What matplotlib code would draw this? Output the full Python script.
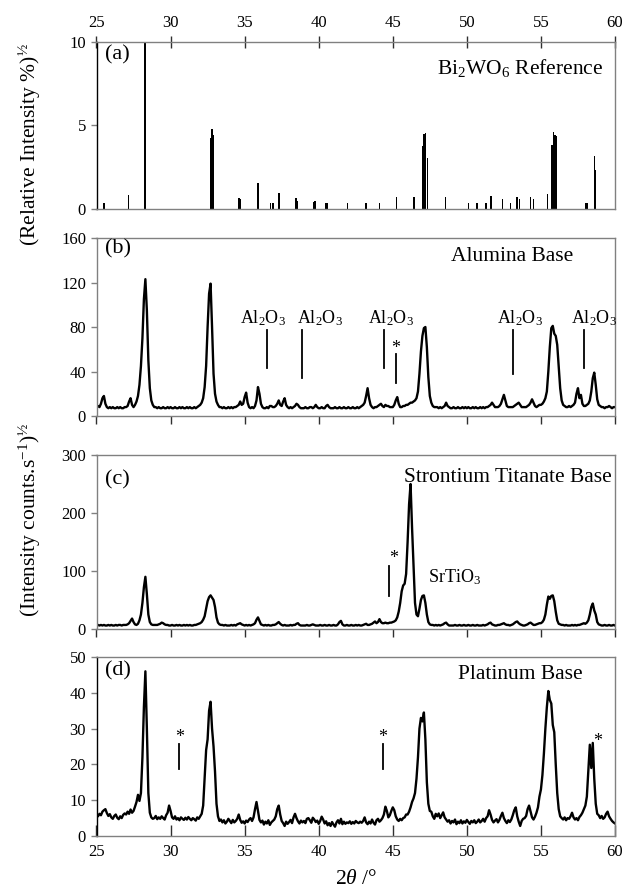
import numpy as np
import matplotlib
matplotlib.use("Agg")
import matplotlib.pyplot as plt

plt.rcParams['font.family'] = ['Liberation Serif', 'DejaVu Serif']
plt.rcParams['mathtext.fontset'] = 'custom'
plt.rcParams['mathtext.rm'] = 'Liberation Serif'
plt.rcParams['mathtext.it'] = 'Liberation Serif:italic'

# ---- (a) Bi2WO6 reference sticks: 2theta, sqrt(relative intensity %)
ref_pos = [25.5, 27.15, 28.28, 32.7, 32.8, 32.9, 34.61, 34.7, 35.9, 36.75, 36.93,
           37.33, 38.46, 38.58, 39.64, 39.76, 40.5, 40.6, 41.95, 43.15, 43.2, 44.1,
           45.25, 46.43, 47.0, 47.1, 47.2, 47.33, 48.56, 50.12, 50.68, 51.3, 51.63,
           52.42, 52.94, 53.4, 53.56, 54.3, 54.5, 55.43, 55.75, 55.85, 55.95, 56.05,
           58.0, 58.1, 58.6, 58.7]
ref_int = [0.38, 0.82, 10.0, 4.24, 4.8, 4.44, 0.68, 0.6, 1.54, 0.38, 0.38,
           0.94, 0.68, 0.5, 0.44, 0.5, 0.38, 0.38, 0.38, 0.38, 0.38, 0.38,
           0.74, 0.74, 3.74, 4.5, 4.54, 3.04, 0.74, 0.38, 0.38, 0.38, 0.8,
           0.6, 0.38, 0.74, 0.6, 0.74, 0.6, 0.88, 3.84, 4.58, 4.4, 4.38,
           0.38, 0.38, 3.14, 2.34]

# ---- measured patterns, 0.1 deg scan step from 25 to 60 (one row per degree)
two_theta = np.round(np.arange(25.0, 60.05, 0.1), 1)

alumina = [
    8, 9, 8, 11, 16, 18, 11, 8, 7, 8,
    7, 8, 7, 7, 8, 7, 8, 7, 7, 8,
    8, 9, 13, 16, 10, 8, 10, 13, 18, 28,
    45, 70, 105, 123, 95, 50, 25, 14, 10, 8,
    8, 7, 8, 7, 7, 8, 7, 7, 8, 7,
    8, 7, 7, 8, 7, 7, 8, 7, 8, 7,
    7, 8, 7, 8, 7, 7, 8, 7, 8, 9,
    10, 12, 16, 26, 45, 80, 110, 119, 80, 38,
    20, 13, 10, 8, 8, 7, 8, 7, 7, 8,
    7, 8, 7, 8, 8, 9, 10, 13, 10, 11,
    17, 21, 12, 8, 7, 8, 7, 9, 14, 26,
    20, 11, 8, 7, 7, 8, 7, 9, 9, 8,
    8, 9, 11, 14, 10, 9, 13, 16, 10, 8,
    7, 8, 7, 8, 9, 11, 10, 8, 7, 7,
    7, 8, 7, 7, 8, 8, 7, 8, 10, 8,
    7, 7, 8, 7, 7, 9, 10, 8, 7, 7,
    7, 8, 7, 7, 8, 7, 7, 8, 7, 7,
    8, 7, 7, 8, 7, 7, 8, 7, 8, 9,
    10, 12, 18, 25, 16, 10, 8, 7, 8, 8,
    9, 10, 11, 9, 8, 10, 9, 9, 8, 8,
    8, 10, 14, 17, 11, 8, 8, 9, 9, 10,
    10, 11, 12, 12, 13, 14, 16, 22, 38, 58,
    72, 79, 80, 62, 35, 18, 12, 9, 8, 8,
    8, 7, 8, 7, 8, 9, 12, 9, 8, 7,
    7, 8, 7, 7, 8, 7, 7, 8, 7, 8,
    7, 8, 7, 7, 8, 7, 8, 7, 7, 8,
    7, 8, 7, 8, 8, 9, 10, 12, 10, 8,
    8, 8, 9, 11, 15, 19, 14, 9, 8, 8,
    8, 8, 9, 10, 11, 12, 10, 8, 8, 8,
    8, 9, 10, 12, 15, 12, 9, 8, 9, 10,
    10, 11, 13, 16, 22, 40, 62, 79, 81, 74,
    72, 64, 45, 25, 14, 10, 9, 8, 8, 9,
    8, 9, 10, 12, 20, 25, 16, 19, 11, 9,
    9, 10, 11, 14, 22, 34, 39, 28, 15, 10,
    9, 8, 8, 7, 8, 8, 9, 8, 7, 8,
    8]

srtio3 = [
    6, 7, 6, 7, 6, 7, 6, 6, 7, 6,
    7, 6, 6, 7, 6, 7, 7, 6, 7, 7,
    7, 8, 10, 14, 18, 12, 8, 7, 9, 15,
    25, 45, 72, 90, 60, 25, 12, 8, 7, 7,
    7, 7, 8, 9, 11, 10, 8, 7, 7, 6,
    6, 7, 6, 6, 7, 6, 7, 6, 6, 7,
    6, 7, 6, 7, 6, 6, 7, 7, 8, 9,
    10, 12, 16, 22, 35, 48, 55, 58, 54, 50,
    38, 20, 11, 8, 7, 7, 6, 7, 6, 6,
    6, 7, 6, 7, 6, 8, 9, 10, 8, 7,
    6, 7, 6, 7, 6, 7, 8, 10, 16, 20,
    14, 8, 7, 6, 7, 6, 7, 6, 6, 7,
    7, 8, 10, 12, 9, 7, 6, 7, 6, 6,
    6, 7, 6, 7, 7, 9, 10, 7, 6, 6,
    6, 6, 7, 6, 6, 7, 8, 7, 6, 6,
    6, 7, 6, 6, 7, 6, 6, 7, 6, 6,
    7, 6, 6, 8, 12, 14, 8, 6, 6, 7,
    6, 6, 7, 6, 6, 7, 6, 7, 6, 6,
    7, 8, 9, 7, 7, 8, 9, 11, 13, 10,
    12, 17, 12, 10, 10, 11, 10, 10, 11, 11,
    12, 13, 15, 20, 30, 45, 65, 75, 78, 95,
    150, 215, 250, 175, 110, 45, 25, 22, 35, 50,
    57, 58, 45, 25, 12, 8, 7, 7, 6, 7,
    6, 7, 6, 7, 8, 10, 11, 8, 6, 6,
    6, 6, 7, 6, 6, 7, 6, 6, 7, 6,
    6, 7, 6, 6, 7, 6, 6, 7, 6, 6,
    6, 7, 6, 7, 8, 10, 11, 8, 7, 6,
    6, 7, 7, 8, 9, 10, 8, 7, 7, 6,
    7, 8, 10, 12, 13, 10, 8, 7, 6, 6,
    7, 8, 10, 11, 9, 7, 7, 8, 9, 10,
    10, 12, 16, 25, 42, 56, 52, 57, 58, 48,
    30, 15, 9, 8, 7, 7, 6, 7, 6, 6,
    6, 7, 6, 7, 6, 7, 7, 8, 9, 10,
    9, 11, 15, 25, 38, 44, 32, 25, 12, 8,
    7, 6, 6, 7, 6, 6, 7, 6, 6, 7,
    6]

platinum = [
    6.0, 5.5, 6.2, 5.8, 6.8, 7.2, 7.5, 6.4, 5.6, 6.1,
    5.2, 4.8, 5.6, 6.0, 5.1, 4.7, 5.5, 5.0, 5.9, 6.3,
    6.0, 6.8, 6.2, 7.4, 6.5, 7.0, 8.2, 9.5, 11.5, 9.8,
    12, 22, 36, 46, 30, 12, 6.5, 5.2, 4.8, 5.0,
    5.6, 4.7, 5.2, 4.8, 5.5, 5.0, 4.6, 5.8, 6.5, 8.5,
    7.0, 5.2, 4.8, 5.5, 4.6, 5.0, 4.4, 5.2, 4.8, 4.5,
    5.1, 4.6, 5.3, 4.8, 4.4, 5.0, 4.7, 4.3, 5.2, 4.8,
    5.5, 6.2, 8.5, 16, 24, 27, 35, 37.5, 30, 25,
    18, 9.0, 5.5, 4.2, 4.6, 3.8, 4.4, 3.5, 4.0, 4.8,
    4.2, 3.6, 4.5, 3.8, 4.2, 4.8, 6.0, 4.5, 3.7, 4.1,
    3.5, 4.3, 3.9, 4.6, 5.0, 4.2, 5.2, 7.5, 9.5, 7.0,
    4.5, 3.8, 4.3, 3.2, 4.0, 3.5, 4.4, 3.1, 3.8, 4.2,
    4.6, 5.5, 7.5, 8.5, 6.0, 4.2, 3.6, 2.8, 4.0, 3.4,
    3.9, 4.5, 3.6, 5.2, 6.2, 5.0, 4.1, 3.5, 4.3, 3.8,
    4.2, 3.6, 4.8, 5.0, 4.4, 3.7, 5.1, 4.6, 3.9, 4.3,
    3.4, 4.2, 5.4, 4.6, 3.5, 4.1, 3.0, 3.6, 2.8, 3.9,
    3.2, 2.6, 3.8, 4.4, 3.5, 4.8, 3.3, 4.0, 3.4, 3.8,
    3.6, 4.1, 3.4, 3.9, 3.5, 4.2, 3.8, 3.6, 4.0, 3.7,
    4.2, 5.2, 3.8, 3.3, 4.0, 3.5, 4.6, 3.7, 3.2, 4.4,
    4.8, 4.0, 4.4, 5.0, 6.0, 8.2, 7.0, 5.2, 5.8, 7.0,
    8.0, 7.2, 5.5, 4.6, 4.2, 4.8, 4.4, 5.0, 5.2, 6.0,
    6.0, 6.8, 8.0, 9.5, 10.5, 12, 16, 22, 30, 33,
    32, 34.5, 27, 15, 9.0, 7.0, 6.8, 5.5, 4.8, 6.2,
    5.5, 6.3, 5.0, 5.8, 6.6, 5.2, 4.6, 4.0, 4.4, 3.5,
    4.2, 3.8, 4.6, 3.3, 4.0, 3.6, 4.4, 3.5, 4.1, 3.7,
    4.5, 3.9, 3.4, 4.2, 3.8, 4.4, 3.6, 4.0, 4.6, 3.8,
    4.2, 4.8, 4.0, 5.0, 5.5, 7.2, 6.0, 4.5, 3.8, 4.3,
    4.7, 3.8, 4.5, 5.6, 6.5, 5.0, 4.2, 3.6, 4.4, 3.9,
    4.6, 5.8, 7.2, 8.0, 5.5, 4.0, 2.8, 4.2, 4.8, 5.0,
    5.6, 7.5, 8.5, 6.8, 5.2, 4.6, 5.4, 6.5, 8.0, 11,
    13, 17, 23, 30, 36, 40.5, 38, 37, 31, 29,
    20, 12, 7.5, 5.5, 5.0, 4.6, 5.2, 4.4, 5.0, 4.8,
    5.5, 6.5, 5.2, 4.6, 5.0, 4.4, 5.3, 5.8, 6.5, 7.5,
    8.5, 11, 18, 25.5, 19, 26, 16, 9.0, 6.2, 5.8,
    5.0, 5.6, 4.8, 5.2, 6.2, 6.8, 5.5, 4.8, 4.2, 3.8,
    3.5]

# phase markers: (position, line bottom, line top)
al2o3_marks = [(36.5, 43, 77), (38.84, 34, 77), (44.4, 43, 77), (53.1, 38, 77), (57.9, 43, 77)]
al2o3_labels = [36.26, 40.07, 44.9, 53.6, 58.55]

FS_TICK = 12
FS_TXT = 15.5
FS_SMALL = 13
FRAME = '#808080'

fig = plt.figure(figsize=(6.26, 8.9), dpi=100)
left, width = 96.5 / 626, (615 - 96.5) / 626


def make_axes(top_px, bot_px):
    ax = fig.add_axes([left, 1 - bot_px / 890, width, (bot_px - top_px) / 890])
    ax.set_xlim(25, 60)
    ax.set_xticks(range(25, 61, 5))
    for s in ax.spines.values():
        s.set_color(FRAME)
        s.set_linewidth(1.0)
    ax.tick_params(labelsize=FS_TICK, colors='black', width=1.0)
    ax.tick_params(axis='y', direction='out', length=4, color=FRAME)
    return ax


# (a)
axa = make_axes(41.7, 209)
axa.bar(ref_pos, ref_int, width=0.1, color='black', linewidth=0)
axa.set_ylim(0, 10)
axa.set_yticks([0, 5, 10])
axa.xaxis.tick_top()
axa.tick_params(axis='x', direction='inout', length=9, color='#303030', pad=3)
axa.spines['left'].set_color('black')
axa.text(25.6, 9.2, '(a)', fontsize=16, va='center', ha='left')
axa.text(59.2, 8.4, r'Bi$_2$WO$_6$ Reference', fontsize=FS_TXT, va='center', ha='right')

# (b)
axb = make_axes(238, 416)
axb.plot(two_theta, alumina, color='black', lw=1.7)
axb.set_ylim(0, 160)
axb.set_yticks([0, 40, 80, 120, 160])
axb.tick_params(axis='x', direction='out', length=6, labelbottom=False, color='#303030')
axb.text(25.6, 150, '(b)', fontsize=16, va='center', ha='left')
axb.text(57.2, 143, 'Alumina Base', fontsize=FS_TXT, va='center', ha='right')
for pos, lo, hi in al2o3_marks:
    axb.plot([pos, pos], [lo, hi], color='black', lw=1.3)
for pos in al2o3_labels:
    axb.text(pos, 88, r'Al$_2$O$_3$', fontsize=FS_SMALL, ha='center', va='center')
axb.plot([45.2, 45.2], [30, 56], color='black', lw=1.3)
axb.text(45.2, 61, '*', fontsize=FS_SMALL, ha='center', va='center')

# (c)
axc = make_axes(455, 629)
axc.plot(two_theta, srtio3, color='black', lw=1.7)
axc.set_ylim(0, 300)
axc.set_yticks([0, 100, 200, 300])
axc.tick_params(axis='x', direction='out', length=6, labelbottom=False, color='#303030')
axc.text(25.6, 257, '(c)', fontsize=16, va='center', ha='left')
axc.text(59.8, 262, 'Strontium Titanate Base', fontsize=FS_TXT, va='center', ha='right')
axc.text(47.4, 90, r'SrTiO$_3$', fontsize=FS_SMALL, va='center', ha='left')
axc.plot([44.75, 44.75], [57, 108], color='black', lw=1.3)
axc.text(45.05, 122, '*', fontsize=FS_SMALL, ha='center', va='center')

# (d)
axd = make_axes(657, 836)
axd.plot(two_theta, platinum, color='black', lw=1.7)
axd.set_ylim(0, 50)
axd.set_yticks(range(0, 51, 10))
axd.tick_params(axis='x', direction='in', length=8, color='#303030', pad=6)
axd.spines['left'].set_color('black')
axd.text(25.6, 46, '(d)', fontsize=16, va='center', ha='left')
axd.text(57.8, 45, 'Platinum Base', fontsize=FS_TXT, va='center', ha='right')
for pos in [30.58, 44.32]:
    axd.plot([pos, pos], [18.8, 25.6], color='black', lw=1.3)
    axd.text(pos, 27.6, '*', fontsize=FS_SMALL, ha='center', va='center')
axd.text(58.8, 26.5, '*', fontsize=FS_SMALL, ha='center', va='center')
axd.set_xlabel(r'2$\theta$ /°', fontsize=FS_TXT, labelpad=7)

fig.text(0.048, 1 - 145 / 890, r'(Relative Intensity %)$^{½}$', rotation=90,
         ha='center', va='center', fontsize=FS_TXT)
fig.text(0.048, 1 - 520 / 890, r'(Intensity counts.s$^{-1}$)$^{½}$', rotation=90,
         ha='center', va='center', fontsize=FS_TXT)

fig.savefig('out.png', dpi=100)
